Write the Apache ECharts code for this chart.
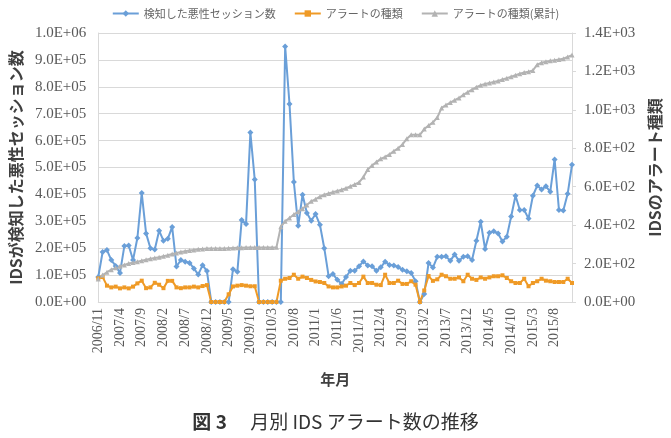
<!DOCTYPE html>
<html>
<head>
<meta charset="utf-8">
<script src="https://cdn.jsdelivr.net/npm/echarts@6/dist/echarts.min.js"></script>
<style>
    html, body { margin: 0; padding: 0; background: #fff; }
    #chart { width: 671px; height: 438px; }
</style>
</head>
<body>
<div id="chart"></div>
<script>
// 2006/11 - 2015/12 月別
var startYear = 2006, startMonth = 11, monthCount = 110;
var months = [];
for (var k = 0; k < monthCount; k++) {
    var m = startMonth - 1 + k;
    months.push((startYear + Math.floor(m / 12)) + '/' + (m % 12 + 1));
}

var seriesNames = ['検知した悪性セッション数', 'アラートの種類', 'アラートの種類(累計)'];

// 検知した悪性セッション数 (左軸)
var sessionCount = [
    93000, 186000, 193000, 156000, 134000, 108000, 208000, 210000, 156000, 238000,
    405000, 255000, 200000, 195000, 265000, 228000, 235000, 279000, 132000, 156000,
    150000, 145000, 125000, 102000, 137000, 115000, 0, 0, 0, 0,
    0, 122000, 112000, 305000, 290000, 630000, 455000, 0, 0, 0,
    0, 0, 0, 950000, 736000, 446000, 283000, 399000, 331000, 302000,
    327000, 287000, 200000, 96000, 104000, 83000, 67000, 93000, 116000, 116000,
    133000, 151000, 136000, 133000, 116000, 129000, 150000, 138000, 136000, 130000,
    120000, 114000, 108000, 77000, 0, 30000, 145000, 128000, 168000, 168000,
    170000, 153000, 177000, 153000, 168000, 170000, 156000, 228000, 298000, 197000,
    257000, 263000, 255000, 225000, 243000, 318000, 395000, 342000, 342000, 310000,
    395000, 433000, 418000, 430000, 410000, 530000, 342000, 340000, 402000, 510000
];

// アラートの種類 (右軸)
var alertKinds = [
    123, 130, 85, 76, 80, 71, 76, 71, 80, 97,
    111, 72, 76, 100, 90, 72, 110, 110, 76, 72,
    76, 76, 80, 76, 83, 88, 0, 0, 0, 0,
    40, 81, 85, 88, 85, 82, 82, 0, 0, 0,
    0, 0, 111, 121, 125, 142, 121, 132, 125, 115,
    107, 104, 99, 81, 76, 76, 81, 85, 99, 88,
    99, 132, 99, 99, 90, 88, 142, 99, 99, 111,
    94, 94, 108, 90, 0, 60, 135, 110, 118, 142,
    134, 121, 121, 128, 108, 142, 121, 115, 128, 121,
    128, 134, 134, 139, 125, 108, 99, 99, 121, 82,
    99, 108, 121, 111, 108, 104, 104, 104, 121, 99
];

// アラートの種類(累計) (右軸)
var alertKindsTotal = [
    120, 140, 155, 168, 178, 186, 193, 200, 205, 210,
    215, 220, 225, 229, 233, 238, 243, 250, 255, 260,
    264, 268, 271, 274, 276, 278, 279, 279, 279, 279,
    280, 281, 282, 282, 283, 283, 283, 283, 283, 283,
    284, 285, 392, 420, 437, 455, 470, 485, 505, 524,
    535, 548, 558, 565, 572, 578, 584, 592, 602, 612,
    622, 650, 690, 710, 728, 745, 755, 768, 785, 800,
    820, 850, 870, 870, 870, 900, 918, 935, 960, 1010,
    1025, 1038, 1050, 1062, 1078, 1092, 1105, 1118, 1128, 1135,
    1140, 1145, 1150, 1158, 1165, 1172, 1180, 1188, 1194, 1198,
    1205, 1235, 1245, 1250, 1255, 1258, 1262, 1266, 1275, 1285
];

var colors = ['#6a9fd8', '#ef9a26', '#b3b3b3'];
var jpFont = '"Noto Sans CJK JP", sans-serif';
var numFont = '"Liberation Serif", "DejaVu Serif", serif';

// 1.0E+06 形式
function sci(v) {
    var s = v.toExponential(1).split('e');
    var ex = parseInt(s[1], 10);
    var a = Math.abs(ex);
    return s[0] + 'E' + (ex < 0 ? '-' : '+') + (a < 10 ? '0' : '') + a;
}

var box = echarts.init(document.getElementById('chart'));
var option = {
    animation: false,
    color: colors,
    title: {
        text: '{b|図 3}　 月別 IDS アラート数の推移',
        left: 'center',
        top: 407,
        textStyle: {
            fontFamily: jpFont,
            fontSize: 19,
            fontWeight: 'normal',
            color: '#333',
            rich: {
                b: { fontFamily: jpFont, fontSize: 19, fontWeight: 'bold', color: '#333' }
            }
        }
    },
    legend: {
        top: 3,
        left: 'center',
        itemWidth: 26,
        itemHeight: 8,
        itemGap: 18,
        data: seriesNames,
        textStyle: { fontFamily: jpFont, fontSize: 11, color: '#666' }
    },
    grid: {
        left: 94,
        right: 94,
        top: 33,
        bottom: 136
    },
    xAxis: {
        type: 'category',
        boundaryGap: false,
        data: months,
        name: '年月',
        nameLocation: 'middle',
        nameGap: 70,
        nameTextStyle: { fontFamily: jpFont, fontSize: 15, fontWeight: 'bold', color: '#404040' },
        axisLine: { lineStyle: { color: '#d9d9d9' } },
        axisTick: { show: false },
        axisLabel: {
            interval: 4,
            rotate: 90,
            margin: 6,
            fontFamily: numFont,
            fontSize: 14,
            color: '#595959'
        }
    },
    yAxis: [
        {
            type: 'value',
            min: 0,
            max: 1000000,
            interval: 100000,
            name: 'IDSが検知した悪性セッション数',
            nameLocation: 'middle',
            nameRotate: 90,
            nameGap: 69,
            nameTextStyle: { fontFamily: jpFont, fontSize: 16, fontWeight: 'bold', color: '#404040' },
            axisLine: { show: true, lineStyle: { color: '#d9d9d9' } },
            axisTick: { show: false },
            splitLine: { lineStyle: { color: '#d9d9d9' } },
            axisLabel: {
                formatter: sci,
                margin: 12,
                fontFamily: numFont,
                fontSize: 15,
                color: '#595959'
            }
        },
        {
            type: 'value',
            min: 0,
            max: 1400,
            interval: 200,
            name: 'IDSのアラート種類',
            nameLocation: 'middle',
            nameRotate: 90,
            nameGap: 75,
            nameTextStyle: { fontFamily: jpFont, fontSize: 16, fontWeight: 'bold', color: '#404040' },
            axisLine: { show: true, lineStyle: { color: '#d9d9d9' } },
            axisTick: { show: true, length: 4, lineStyle: { color: '#d9d9d9' } },
            splitLine: { show: false },
            axisLabel: {
                formatter: sci,
                margin: 12,
                fontFamily: numFont,
                fontSize: 15,
                color: '#595959'
            }
        }
    ],
    series: [
        {
            name: seriesNames[0],
            type: 'line',
            yAxisIndex: 0,
            data: sessionCount,
            symbol: 'diamond',
            symbolSize: 6,
            showAllSymbol: true,
            lineStyle: { width: 2 }
        },
        {
            name: seriesNames[1],
            type: 'line',
            yAxisIndex: 1,
            data: alertKinds,
            symbol: 'rect',
            symbolSize: 4,
            showAllSymbol: true,
            lineStyle: { width: 2 }
        },
        {
            name: seriesNames[2],
            type: 'line',
            yAxisIndex: 1,
            data: alertKindsTotal,
            symbol: 'triangle',
            symbolSize: 5,
            showAllSymbol: true,
            lineStyle: { width: 2 }
        }
    ]
};
box.setOption(option);
</script>
</body>
</html>
